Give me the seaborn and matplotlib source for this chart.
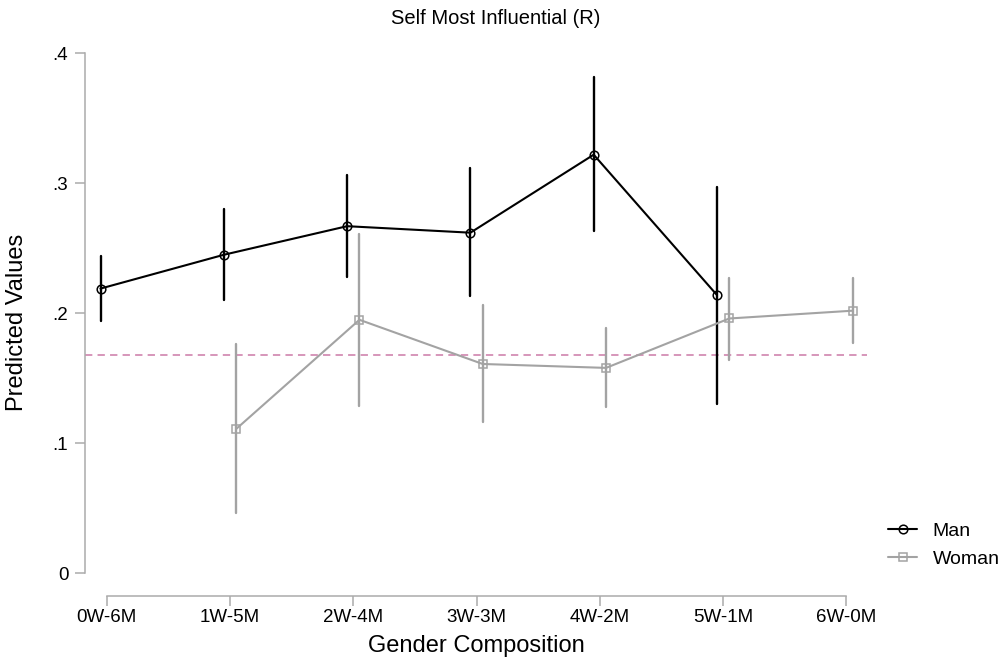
import pandas as pd
import matplotlib
matplotlib.use("Agg")
import matplotlib.pyplot as plt
import seaborn as sns

categories = ['0W-6M', '1W-5M', '2W-4M', '3W-3M', '4W-2M', '5W-1M', '6W-0M']

man_cats = categories[:6]
man_est = [0.219, 0.245, 0.267, 0.262, 0.322, 0.214]
man_lo = [0.194, 0.210, 0.228, 0.213, 0.263, 0.130]
man_hi = [0.244, 0.280, 0.306, 0.312, 0.382, 0.297]

woman_cats = categories[1:]
woman_est = [0.111, 0.195, 0.161, 0.158, 0.196, 0.202]
woman_lo = [0.046, 0.129, 0.116, 0.128, 0.164, 0.177]
woman_hi = [0.176, 0.261, 0.206, 0.189, 0.227, 0.227]

ref_value = 0.168

yticks = [0, 0.1, 0.2, 0.3, 0.4]
ytick_labels = ['0', '.1', '.2', '.3', '.4']

# three rows per group (lo, estimate, hi): median gives the estimate,
# the 100% percentile interval gives the CI
rows = []
for g, cats, est, lo, hi in [('Man', man_cats, man_est, man_lo, man_hi),
                             ('Woman', woman_cats, woman_est, woman_lo, woman_hi)]:
    for c, e, l, h in zip(cats, est, lo, hi):
        for v in (l, e, h):
            rows.append({'comp': c, 'val': v, 'gender': g})
df = pd.DataFrame(rows)

sns.set_style('ticks')
plt.rcParams['font.family'] = ['Liberation Sans', 'DejaVu Sans']
plt.rcParams['text.color'] = 'black'
plt.rcParams['axes.labelcolor'] = 'black'

axis_gray = '#ababab'
woman_gray = '#a3a3a3'

fig = plt.figure(figsize=(10.02, 6.57), dpi=100)
ax = fig.add_axes([0.0848, 0.1274, 0.7804, 0.7915])

ax.axhline(ref_value, color='#cc79a7', lw=1.1, dashes=(4.8, 3.4), zorder=1)

sns.pointplot(data=df, x='comp', y='val', hue='gender',
              order=categories, hue_order=['Man', 'Woman'],
              palette={'Man': 'black', 'Woman': woman_gray},
              estimator='median', errorbar=('pi', 100), dodge=0.1,
              markers=['o', 's'], linestyles='-',
              markersize=6.2, markerfacecolor='none', markeredgewidth=1.1,
              linewidth=1.5, err_kws={'linewidth': 1.7}, ax=ax)

ax.set_xlim(-0.176, 6.166)
ax.set_ylim(0, 0.4)
ax.set_yticks(yticks)
ax.set_yticklabels(ytick_labels)

sns.despine(ax=ax)
ax.spines['left'].set_bounds(0, 0.4)
ax.spines['bottom'].set_bounds(0, 6)
ax.spines['bottom'].set_position(('outward', 16))
for s in ('left', 'bottom'):
    ax.spines[s].set_color(axis_gray)
    ax.spines[s].set_linewidth(1.1)
ax.tick_params(axis='both', colors=axis_gray, labelcolor='black',
               length=7, width=1.1, labelsize=13.5)
ax.tick_params(axis='y', pad=5)
ax.tick_params(axis='x', pad=3)

ax.set_xlabel('Gender Composition', fontsize=17)
ax.set_ylabel('Predicted Values', fontsize=17)
ax.xaxis.set_label_coords(0.501, -0.118)
ax.yaxis.set_label_coords(-0.073, 0.483)

fig.text(0.495, 1 - 19 / 657, 'Self Most Influential (R)', fontsize=14.5,
         ha='center', va='center')

handles, labels = ax.get_legend_handles_labels()
ax.legend(handles, labels, loc='center left',
          bbox_to_anchor=(888 / 1002, 1 - 545 / 657),
          bbox_transform=fig.transFigure, frameon=False, fontsize=14,
          borderpad=0, borderaxespad=0, handlelength=1.5,
          handletextpad=0.8, labelspacing=0.55)

fig.savefig('out.png', dpi=100)
